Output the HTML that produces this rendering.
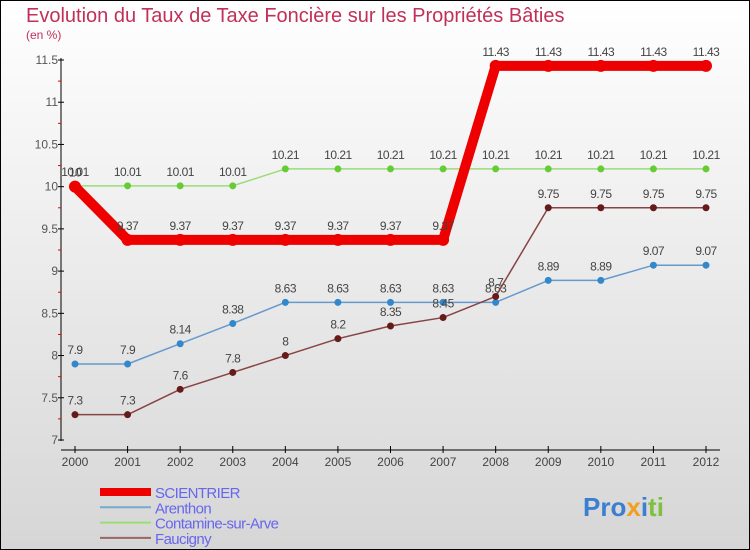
<!DOCTYPE html>
<html><head><meta charset="utf-8"><style>
body{margin:0}
svg{display:block;font-family:"Liberation Sans",sans-serif}
</style></head><body>
<svg width="750" height="550" viewBox="0 0 750 550">
<defs><linearGradient id="bg" x1="0" y1="0" x2="0" y2="1"><stop offset="0" stop-color="#ffffff"/><stop offset="1" stop-color="#d6d6d6"/></linearGradient></defs>
<rect x="0.5" y="0.5" width="749" height="549" fill="url(#bg)" stroke="#000"/>
<text x="26" y="22" font-size="20" fill="#c0305a">Evolution du Taux de Taxe Foncière sur les Propriétés Bâties</text>
<text x="26" y="39" font-size="12" fill="#c0305a">(en %)</text>
<g id="axes"></g>
<g id="series"></g>
<g id="legend"></g>
<text x="583" y="516" font-size="26" font-weight="bold"><tspan fill="#3a7fd0">Pro</tspan><tspan fill="#f0a020">x</tspan><tspan fill="#3a7fd0">i</tspan><tspan fill="#80c040">ti</tspan></text>
</svg>
<script>
const years=[2000,2001,2002,2003,2004,2005,2006,2007,2008,2009,2010,2011,2012];
const yTicks=[7,7.5,8,8.5,9,9.5,10,10.5,11,11.5];
const scientrier=[10,9.37,9.37,9.37,9.37,9.37,9.37,9.37,11.43,11.43,11.43,11.43,11.43];
const arenthon=[7.9,7.9,8.14,8.38,8.63,8.63,8.63,8.63,8.63,8.89,8.89,9.07,9.07];
const contamine=[10.01,10.01,10.01,10.01,10.21,10.21,10.21,10.21,10.21,10.21,10.21,10.21,10.21];
const faucigny=[7.3,7.3,7.6,7.8,8,8.2,8.35,8.45,8.7,9.75,9.75,9.75,9.75];
const names=["SCIENTRIER","Arenthon","Contamine-sur-Arve","Faucigny"];
const NS="http://www.w3.org/2000/svg";
const X=i=>75+i*(706-75)/12;
const Y=v=>440-(v-7)*(380/4.5);
function mk(p,t,a){const e=document.createElementNS(NS,t);for(const k in a)e.setAttribute(k,a[k]);p.appendChild(e);return e;}
const ax=document.getElementById('axes');
let l=mk(ax,'line',{x1:61,y1:58,x2:61,y2:441,stroke:'#000'});


l=mk(ax,'line',{x1:61,y1:450,x2:720,y2:450,stroke:'#000'});


yTicks.forEach((v,i)=>{
 mk(ax,'line',{x1:58,y1:Y(v),x2:64,y2:Y(v),stroke:'#000'});
 if(i<yTicks.length-1)mk(ax,'line',{x1:58,y1:(Y(v)+Y(yTicks[i+1]))/2,x2:61,y2:(Y(v)+Y(yTicks[i+1]))/2,stroke:'#e00'});
 const t=mk(ax,'text',{x:58,y:Y(v)+4,'font-size':12,fill:'#555','text-anchor':'end'});
 t.textContent=v;
 
 
});
years.forEach((y,i)=>{
 mk(ax,'line',{x1:X(i),y1:446,x2:X(i),y2:453,stroke:'#000'});
 const t=mk(ax,'text',{x:X(i),y:466,'font-size':12,fill:'#444','text-anchor':'middle'});
 t.textContent=y;
 
 
});
const sg=document.getElementById('series');
function draw(data,col,w,dot,dotCol,name){
 const g=mk(sg,'g',{});
 
 
 mk(g,'polyline',{points:data.map((v,i)=>X(i)+','+Y(v)).join(' '),fill:'none',stroke:col,'stroke-width':w,'stroke-linejoin':'round','stroke-linecap':'round'});
 data.forEach((v,i)=>{
  const c=mk(g,'circle',{cx:X(i),cy:Y(v),r:dot,fill:dotCol});
  
  
  const t=mk(g,'text',{x:X(i),y:Y(v)-10,'font-size':12,fill:'#444','text-anchor':'middle','letter-spacing':'-0.5'});
  t.textContent=v;
  
  
 });
}
draw(contamine,'#99dd77',1.5,3.5,'#66cc33','series-contamine');
draw(arenthon,'#6699cc',1.5,3.5,'#3388cc','series-arenthon');
draw(faucigny,'#884444',1.5,3.5,'#661a1a','series-faucigny');
draw(scientrier,'#ee0000',10,6,'#ee0000','series-scientrier');
const lg=document.getElementById('legend');
const cols=['#ee0000','#77aacc','#99dd77','#996666'];
const ws=[8,2,2,2];
names.forEach((n,i)=>{
 const yy=492+i*15.3;
 const g=mk(lg,'g',{});
 
 
 mk(g,'line',{x1:100,y1:yy,x2:151,y2:yy,stroke:cols[i],'stroke-width':ws[i]});
 const t=mk(g,'text',{x:155,y:yy+6,'font-size':15,fill:'#6666ee','letter-spacing':'-0.6'});
 t.textContent=n;
});
</script>
</body></html>
